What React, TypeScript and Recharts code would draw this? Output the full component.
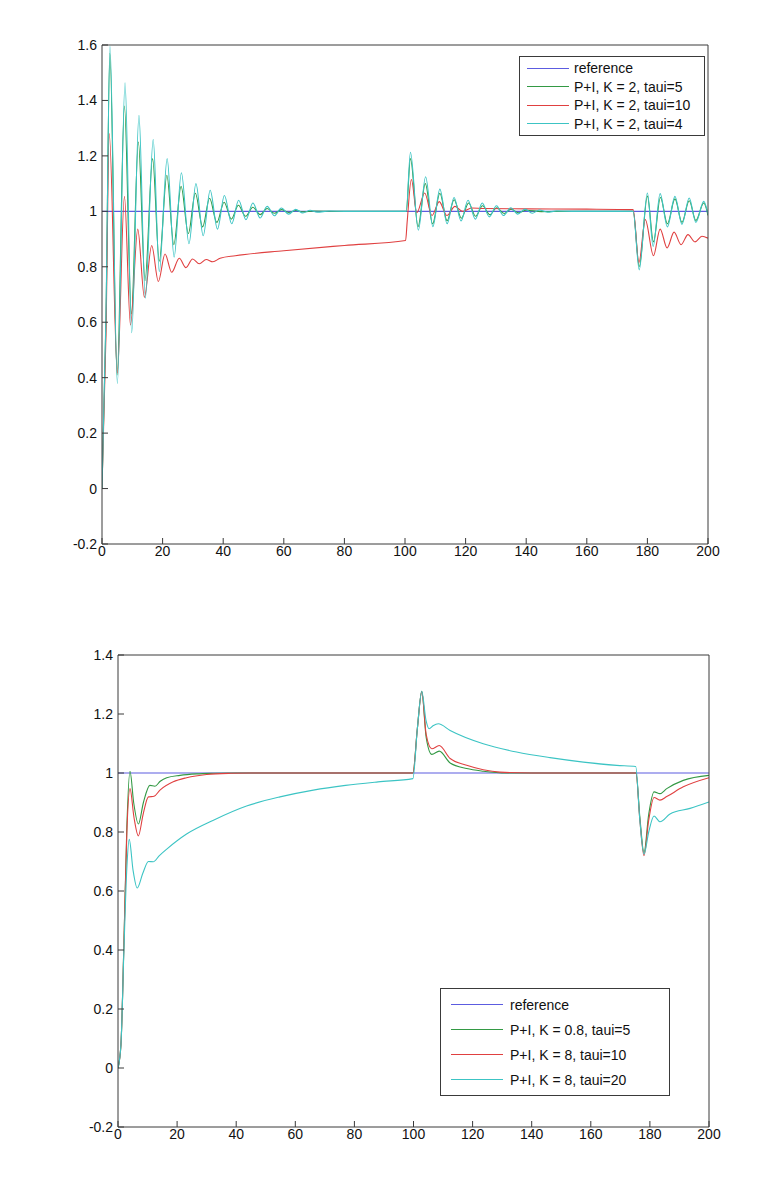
import { LineChart, Line, XAxis, YAxis } from 'recharts';

type Pt = [number, number];

// top panel: K = 2, varying taui
const topRef: Pt[] = [[0, 1], [200, 1]];
const topGreen: Pt[] = [
  [0, 0], [1.3, 0.6], [2.6, 1.57], [5.0, 0.41], [7.4, 1.38], [9.7, 0.63], [12.0, 1.25], [14.2, 0.75],
  [16.7, 1.19], [18.9, 0.82], [21.4, 1.13], [23.7, 0.88], [26.1, 1.09], [28.5, 0.92], [30.8, 1.065],
  [33.2, 0.944], [35.5, 1.047], [37.9, 0.96], [40.3, 1.033], [42.7, 0.972], [45.0, 1.022], [47.4, 0.982],
  [49.8, 1.015], [52.2, 0.988], [54.5, 1.01], [56.9, 0.993], [59.2, 1.006], [61.6, 0.996], [64, 1.003],
  [66.4, 0.998], [70, 1.001], [80, 1.0], [100.4, 1.0], [101.8, 1.19], [104.3, 0.945], [106.7, 1.1],
  [109.1, 0.955], [111.5, 1.065], [113.9, 0.966], [116.2, 1.042], [118.6, 0.975], [121, 1.03],
  [123.3, 0.982], [125.6, 1.02], [128, 0.988], [130.3, 1.013], [132.7, 0.992], [135, 1.008],
  [137.4, 0.995], [140, 1.004], [145, 0.999], [150, 1.0], [175.3, 1.0], [177.3, 0.8], [180, 1.055],
  [182, 0.89], [184.3, 1.05], [186.6, 0.955], [189.1, 1.045], [191.4, 0.96], [193.8, 1.038],
  [196, 0.967], [198.6, 1.03], [200, 0.985],
];
const topRed: Pt[] = [
  [0, 0], [1.3, 0.55], [2.4, 1.281], [5.07, 0.416], [7.4, 1.054], [9.4, 0.59], [11.8, 0.936], [14.0, 0.69],
  [16.4, 0.877], [18.6, 0.747], [20.8, 0.846], [23.0, 0.78], [25.5, 0.831], [27.7, 0.797], [29.9, 0.828],
  [32.1, 0.811], [34.4, 0.826], [36.6, 0.818], [39, 0.831], [44, 0.84], [60, 0.858], [80, 0.877],
  [100.2, 0.895], [100.7, 0.96], [102.1, 1.115], [103.9, 0.995], [106.5, 1.066], [108.9, 0.985],
  [111.3, 1.035], [113.8, 0.985], [116.5, 1.018], [119, 1.0], [122, 1.012], [126, 1.01], [140, 1.009],
  [160, 1.008], [175.3, 1.006], [177.2, 0.815], [179.3, 0.97], [182, 0.84], [184.2, 0.936],
  [186.5, 0.868], [188.8, 0.925], [191.1, 0.88], [193.4, 0.916], [195.7, 0.89], [198, 0.91], [200, 0.903],
];
const topCyan: Pt[] = [
  [0, 0], [1.3, 0.62], [2.64, 1.595], [5.07, 0.379], [7.6, 1.464], [9.8, 0.562], [12.2, 1.346],
  [14.3, 0.687], [16.9, 1.259], [18.9, 0.783], [21.5, 1.19], [23.8, 0.835], [26.2, 1.139], [28.7, 0.883],
  [31.0, 1.1], [33.4, 0.912], [35.7, 1.076], [38.1, 0.936], [40.4, 1.057], [42.8, 0.955], [45.1, 1.04],
  [47.5, 0.97], [49.8, 1.03], [52.2, 0.976], [54.5, 1.018], [56.9, 0.984], [59.2, 1.012], [61.6, 0.99],
  [63.9, 1.007], [66.3, 0.994], [68.7, 1.004], [71, 0.997], [75, 1.001], [80, 1.0], [100.4, 1.0],
  [101.8, 1.213], [104.4, 0.932], [106.8, 1.125], [109.2, 0.945], [111.5, 1.08], [113.9, 0.955],
  [116.2, 1.05], [118.5, 0.965], [120.8, 1.04], [123.2, 0.972], [125.5, 1.03], [127.8, 0.98],
  [130.2, 1.02], [132.5, 0.985], [134.9, 1.013], [137.2, 0.99], [139.6, 1.008], [142, 0.993],
  [144.3, 1.005], [147, 0.997], [150, 1.001], [155, 1.0], [175.3, 1.0], [177.3, 0.789], [180, 1.066],
  [181.9, 0.873], [184.2, 1.064], [186.6, 0.944], [189.1, 1.054], [191.4, 0.953], [193.8, 1.048],
  [196, 0.96], [198.6, 1.036], [200, 0.99],
];

// bottom panel
const botRef: Pt[] = [[0, 1], [200, 1]];
const botGreen: Pt[] = [
  [0, 0], [1, 0.08], [2, 0.42], [3, 0.82], [4.06, 1.006], [5.3, 0.9], [6.9, 0.827], [8.6, 0.9],
  [10.8, 0.958], [12.5, 0.955], [14.3, 0.972], [16.5, 0.984], [21, 0.992], [26.6, 0.997], [32.2, 0.999],
  [40, 1.0], [99.8, 1.0], [101.3, 1.15], [102.8, 1.277], [104.3, 1.12], [106.2, 1.063], [108.7, 1.074],
  [112.4, 1.034], [118, 1.015], [123.6, 1.006], [131.5, 1.0], [175.3, 1.0], [176.6, 0.85], [178, 0.73],
  [179.6, 0.86], [181.4, 0.936], [183.4, 0.93], [185.7, 0.947], [191.3, 0.975], [200, 0.992],
];
const botRed: Pt[] = [
  [0, 0], [1, 0.08], [2, 0.42], [3, 0.8], [4.06, 0.947], [5.4, 0.85], [6.9, 0.787], [8.5, 0.86],
  [10.3, 0.919], [12.2, 0.921], [14.2, 0.942], [18.7, 0.97], [23.2, 0.984], [30, 0.995], [38, 0.999],
  [45, 1.0], [99.8, 1.0], [101.3, 1.15], [102.8, 1.275], [104.3, 1.13], [106.2, 1.082], [108.7, 1.093],
  [112.4, 1.049], [118, 1.026], [123.6, 1.011], [129.2, 1.003], [140, 1.0], [175.3, 1.0], [176.6, 0.84],
  [178, 0.72], [179.6, 0.84], [181.4, 0.917], [183.4, 0.908], [185.7, 0.92], [191.3, 0.953], [200, 0.984],
];
const botCyan: Pt[] = [
  [0, 0], [1, 0.08], [2, 0.4], [3, 0.68], [3.8, 0.775], [5.1, 0.67], [6.5, 0.61], [8.4, 0.66],
  [10.3, 0.7], [11.9, 0.699], [14, 0.72], [16.5, 0.742], [23.2, 0.793], [32.3, 0.84], [43.5, 0.888],
  [54.8, 0.919], [66.1, 0.942], [77, 0.958], [88, 0.97], [99.8, 0.981], [101.3, 1.15], [102.8, 1.277],
  [104.2, 1.18], [105.3, 1.15], [106.6, 1.16], [108.4, 1.167], [112.4, 1.144], [123.6, 1.099],
  [134.9, 1.071], [146.2, 1.052], [157.5, 1.037], [168.8, 1.026], [175.2, 1.022], [176.6, 0.84],
  [178, 0.725], [179.6, 0.8], [181.4, 0.854], [183.4, 0.835], [186.8, 0.861], [193.6, 0.88], [200, 0.902],
];

const xTicks = [0, 20, 40, 60, 80, 100, 120, 140, 160, 180, 200];
const topYTicks = [-0.2, 0, 0.2, 0.4, 0.6, 0.8, 1, 1.2, 1.4, 1.6];
const botYTicks = [-0.2, 0, 0.2, 0.4, 0.6, 0.8, 1, 1.2, 1.4];

const topLabels = ['reference', 'P+I, K = 2, taui=5', 'P+I, K = 2, taui=10', 'P+I, K = 2, taui=4'];
const botLabels = ['reference', 'P+I, K = 0.8, taui=5', 'P+I, K = 8, taui=10', 'P+I, K = 8, taui=20'];

const COLORS = ['#5c5ce0', '#339944', '#e04040', '#3cc4c4'];
const FONT = '"Liberation Sans", Arial, Helvetica, sans-serif';
const AXIS = '#3a3a3a';

const toRows = (pts: Pt[]) => pts.map(([t, v]) => ({ t, v }));

function Panel({ height, margin, yTicks, yDomain, series }: {
  height: number;
  margin: { top: number; right: number; bottom: number; left: number };
  yTicks: number[];
  yDomain: [number, number];
  series: Pt[][];
}) {
  const tickStyle = { fontSize: 14, fill: '#111', fontFamily: FONT };
  return (
    <LineChart width={783} height={height} margin={margin}>
      <XAxis
        xAxisId={0}
        dataKey="t"
        type="number"
        domain={[0, 200]}
        ticks={xTicks}
        interval={0}
        allowDataOverflow
        height={30}
        tickSize={-6}
        tickMargin={8}
        stroke={AXIS}
        tick={tickStyle}
      />
      <XAxis
        xAxisId="top"
        orientation="top"
        dataKey="t"
        type="number"
        domain={[0, 200]}
        ticks={xTicks}
        interval={0}
        allowDataOverflow
        height={1}
        tickSize={-6}
        stroke={AXIS}
        tick={false}
      />
      <YAxis
        yAxisId={0}
        type="number"
        domain={yDomain}
        ticks={yTicks}
        interval={0}
        allowDataOverflow
        width={60}
        tickSize={-6}
        tickMargin={11}
        stroke={AXIS}
        tick={tickStyle}
      />
      <YAxis
        yAxisId="right"
        orientation="right"
        type="number"
        domain={yDomain}
        ticks={yTicks}
        interval={0}
        allowDataOverflow
        width={1}
        tickSize={-6}
        stroke={AXIS}
        tick={false}
      />
      {/* invisible carrier so the box axes have a series */}
      <Line
        xAxisId="top"
        yAxisId="right"
        data={toRows(series[0])}
        dataKey="v"
        stroke="none"
        dot={false}
        activeDot={false}
        isAnimationActive={false}
      />
      {series.map((pts, i) => (
        <Line
          key={i}
          xAxisId={0}
          yAxisId={0}
          data={toRows(pts)}
          dataKey="v"
          type="monotone"
          stroke={COLORS[i]}
          strokeWidth={1.1}
          dot={false}
          activeDot={false}
          isAnimationActive={false}
        />
      ))}
    </LineChart>
  );
}

function LegendBox({ labels, left, top, width, rowH, padTop, lineOff, lineW, gap }: {
  labels: string[]; left: number; top: number; width: number; rowH: number;
  padTop: number; lineOff: number; lineW: number; gap: number;
}) {
  return (
    <div
      style={{
        position: 'absolute', left, top, width, boxSizing: 'border-box',
        border: `1px solid ${AXIS}`, background: '#fff', paddingTop: padTop, paddingBottom: padTop,
        fontFamily: FONT, fontSize: 14, color: '#111',
      }}
    >
      {labels.map((label, i) => (
        <div key={label} style={{ height: rowH, display: 'flex', alignItems: 'center' }}>
          <div style={{ marginLeft: lineOff, width: lineW, height: 1, background: COLORS[i] }} />
          <span style={{ marginLeft: gap, whiteSpace: 'nowrap' }}>{label}</span>
        </div>
      ))}
    </div>
  );
}

export default function App() {
  return (
    <div style={{ position: 'absolute', left: 0, top: 0, width: 783, height: 1191, background: '#fff' }}>
      <div style={{ position: 'absolute', left: 0, top: 0 }}>
        <Panel
          height={600}
          margin={{ top: 44, right: 74, bottom: 26, left: 42 }}
          yTicks={topYTicks}
          yDomain={[-0.2, 1.6]}
          series={[topRef, topGreen, topRed, topCyan]}
        />
      </div>
      <div style={{ position: 'absolute', left: 0, top: 600 }}>
        <Panel
          height={591}
          margin={{ top: 54, right: 73, bottom: 34, left: 58 }}
          yTicks={botYTicks}
          yDomain={[-0.2, 1.4]}
          series={[botRef, botGreen, botRed, botCyan]}
        />
      </div>
      <LegendBox labels={topLabels} left={519} top={56} width={186} rowH={18.5} padTop={2} lineOff={7} lineW={42} gap={5} />
      <LegendBox labels={botLabels} left={440} top={988} width={230} rowH={25} padTop={3} lineOff={10} lineW={52} gap={7} />
    </div>
  );
}
